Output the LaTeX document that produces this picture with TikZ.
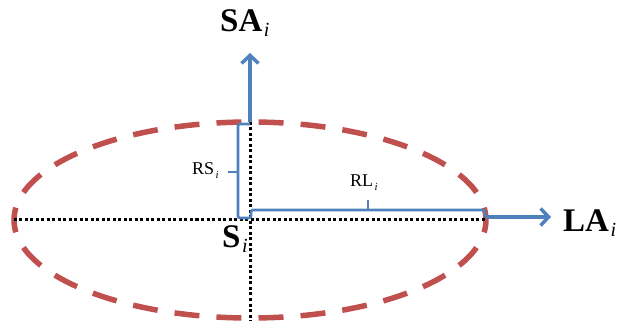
\documentclass[tikz,border=0pt]{standalone}
\usepackage{fontspec}
\setmainfont{Liberation Serif}
\usetikzlibrary{arrows.meta}
\definecolor{axisblue}{RGB}{79,129,189}
\definecolor{ellred}{RGB}{192,80,77}
\newcommand{\lowi}[2]{\kern1.5pt\raisebox{-#2}{\fontsize{#1}{#1}\selectfont\mdseries\itshape i}}
\tikzset{
  ell/.style   ={draw=ellred, line width=5.5pt, dash pattern=on 25pt off 17.1pt, dash phase=12.5pt},
  dotln/.style ={draw=black, line width=3pt, dash pattern=on 3pt off 2.5pt},
  axis/.style  ={draw=axisblue, line width=3.5pt, -{Straight Barb[length=8pt,width=17pt]}},
  brc/.style   ={draw=axisblue, line width=2.6pt, rounded corners=2pt},
  blbl/.style  ={font=\fontsize{33}{36}\selectfont\bfseries, inner sep=0pt, anchor=base west},
  lbl/.style   ={font=\fontsize{18}{20}\selectfont, inner sep=0pt, anchor=base west},
}
\begin{document}
\begin{tikzpicture}[x=1pt,y=1pt]
\useasboundingbox (-250,-106) rectangle (373,220);
% key points
\coordinate (S) at (0,0);
\coordinate (top) at (0,98);
\coordinate (bot) at (0,-101);
\coordinate (lft) at (-236,0);
\coordinate (rgt) at (236,0);
\coordinate (saend) at (0,167);
\coordinate (lastart) at (236,3);
\coordinate (laend) at (301,3);
% ellipse and dotted axes
\draw[ell] (S) ellipse [x radius=236, y radius=98];
\draw[dotln] (lft) -- (rgt);
\draw[dotln] (top) -- (bot);
% axes
\draw[axis] (top) -- (saend);
\draw[axis] (lastart) -- (laend);
% braces
\draw[brc] (0,96) -- (-12,96) -- (-12,2) -- (1,2) -- (1,10) -- (235,10) -- (235,3);
\draw[brc] (-12,48) -- (-22,48);
\draw[brc] (118,10) -- (118,20);
% labels
\node[blbl] (sa) at (-30,188) {SA\lowi{20pt}{5pt}};
\node[blbl] (la) at (313,-12) {LA\lowi{20pt}{5pt}};
\node[blbl] (si) at (-28,-28) {S\lowi{20pt}{5pt}};
\node[lbl] (rs) at (-58,45) {RS\lowi{11pt}{4pt}};
\node[lbl] (rl) at (100,33) {RL\lowi{11pt}{4pt}};
\end{tikzpicture}
\end{document}
